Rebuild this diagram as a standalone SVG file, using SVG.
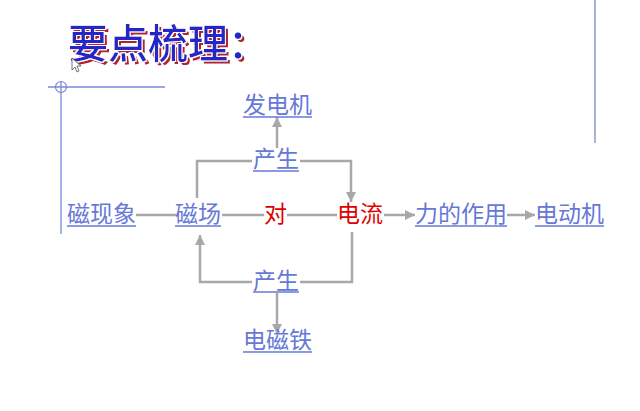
<svg xmlns="http://www.w3.org/2000/svg" width="640" height="411" viewBox="0 0 640 411">
<defs>
<marker id="ah" viewBox="0 0 10 10" refX="10" refY="5" markerWidth="4" markerHeight="4" orient="auto" markerUnits="strokeWidth">
<path d="M0,0 L10,5 L0,10 z" fill="#a8a8a8"/>
</marker>
<filter id="shadow" x="-10%" y="-20%" width="120%" height="150%">
<feOffset in="SourceAlpha" dx="2.5" dy="2.5" result="off"/>
<feFlood flood-color="#b02030" result="red"/>
<feComposite in="red" in2="off" operator="in" result="sh"/>
<feMorphology in="SourceAlpha" operator="dilate" radius="0.7" result="dil"/>
<feFlood flood-color="#ffffff" result="wh"/>
<feComposite in="wh" in2="dil" operator="in" result="edge"/>
<feMerge><feMergeNode in="sh"/><feMergeNode in="edge"/><feMergeNode in="SourceGraphic"/></feMerge>
</filter>
</defs>
<style>
.t{font-family:"Noto Sans CJK SC","Noto Sans CJK JP",sans-serif;font-size:23px}
.b{fill:#6678d8}
.r{fill:#e00000}
.u{stroke:#6678d8;stroke-width:1.3}
.c{fill:none;stroke:#a8a8a8;stroke-width:2.5}
.a{marker-end:url(#ah)}
.ttl{font-family:"Noto Sans CJK SC","Noto Sans CJK JP",sans-serif;font-size:40px;font-weight:500}
</style>
<rect width="640" height="411" fill="#ffffff"/>
<g id="title">
<text class="ttl" x="68" y="58" fill="#2828c8" filter="url(#shadow)">要点梳理：</text>
</g>
<g id="cursor">
<path d="M72,58 L72,70 L75,67 L77,72 L79,71 L77,66 L81,66 z" fill="#ffffff" stroke="#555555" stroke-width="0.8"/>
</g>
<g id="frame">
<line x1="48" y1="87" x2="165" y2="87" stroke="#7888d8" stroke-width="1.3"/>
<circle cx="61" cy="87" r="5.5" fill="none" stroke="#7888d8" stroke-width="1.2"/>
<line x1="61" y1="81" x2="61" y2="234" stroke="#7888d8" stroke-width="1.3"/>
<line x1="595" y1="0" x2="595" y2="143" stroke="#9098c8" stroke-width="1.5"/>
</g>
<g id="connectors">
<line class="c" x1="136" y1="215" x2="176" y2="215"/>
<line class="c" x1="222" y1="215" x2="264" y2="215"/>
<line class="c" x1="287" y1="215" x2="337" y2="215"/>
<line class="c a" x1="384" y1="215" x2="415" y2="215"/>
<line class="c a" x1="507" y1="215" x2="535" y2="215"/>
<polyline class="c" points="197,198 197,161 252,161"/>
<polyline class="c a" points="300,161 351,161 351,202"/>
<line class="c a" x1="277" y1="148" x2="277" y2="117"/>
<polyline class="c" points="352,232 352,282 300,282"/>
<polyline class="c a" points="252,282 200,282 200,235"/>
<line class="c a" x1="277" y1="293" x2="277" y2="334"/>
</g>
<g id="n-cixianxiang"><text class="t b" x="67" y="222">磁现象</text><line class="u" x1="67" y1="226" x2="136" y2="226"/></g>
<g id="n-cichang"><text class="t b" x="175" y="222">磁场</text><line class="u" x1="175" y1="226" x2="221" y2="226"/></g>
<g id="n-dui"><text class="t r" x="264" y="222">对</text></g>
<g id="n-dianliu"><text class="t r" x="337" y="222">电流</text></g>
<g id="n-lideuzuoyong"><text class="t b" x="415" y="222">力的作用</text><line class="u" x1="415" y1="226" x2="507" y2="226"/></g>
<g id="n-diandongji"><text class="t b" x="535" y="222">电动机</text><line class="u" x1="535" y1="226" x2="604" y2="226"/></g>
<g id="n-fadianji"><text class="t b" x="243" y="113">发电机</text><line class="u" x1="243" y1="117" x2="312" y2="117"/></g>
<g id="n-chansheng1"><text class="t b" x="253" y="167">产生</text><line class="u" x1="253" y1="171" x2="299" y2="171"/></g>
<g id="n-chansheng2"><text class="t b" x="253" y="289">产生</text><line class="u" x1="253" y1="292" x2="299" y2="292"/></g>
<g id="n-diancitie"><text class="t b" x="243" y="348">电磁铁</text><line class="u" x1="243" y1="352" x2="312" y2="352"/></g>
</svg>
